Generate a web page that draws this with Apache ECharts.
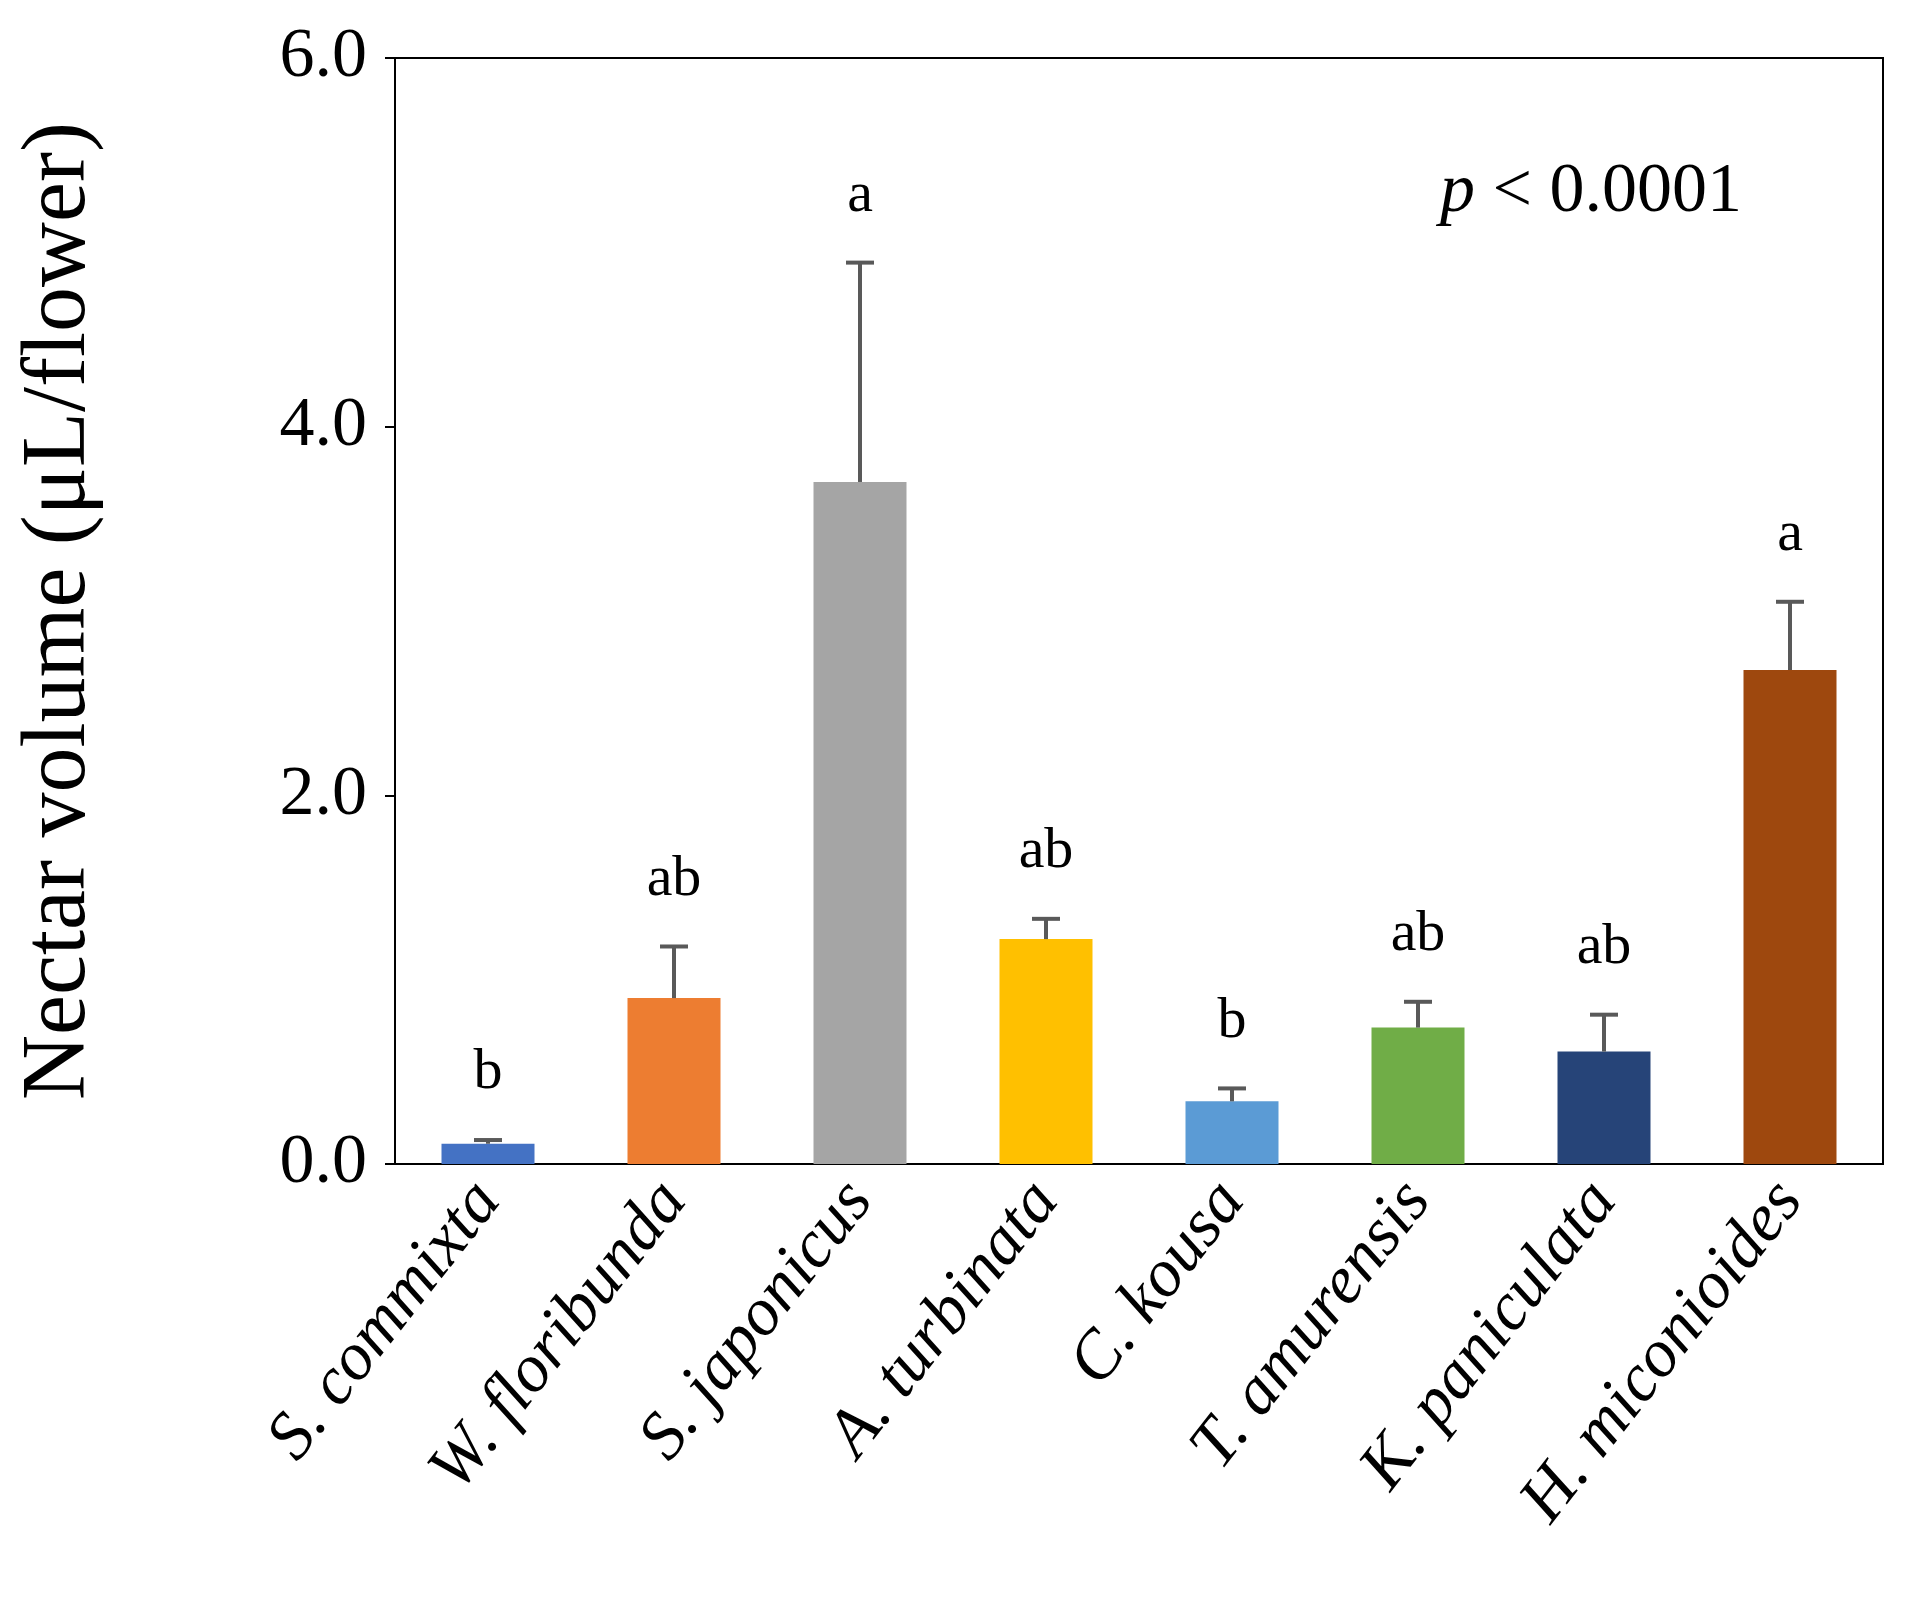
<!DOCTYPE html><html><head><meta charset="utf-8">
<script src="https://cdn.jsdelivr.net/npm/echarts@6/dist/echarts.min.js"></script>
<style>html,body{margin:0;background:#fff}#c{width:1910px;height:1617px}</style></head><body><div id="c"></div>
<script>
const categories=['S. commixta','W. floribunda','S. japonicus','A. turbinata','C. kousa','T. amurensis','K. paniculata','H. miconioides'];
const means=[0.11,0.90,3.70,1.22,0.34,0.74,0.61,2.68];
const upper=[0.13,1.18,4.89,1.33,0.41,0.88,0.81,3.05];
const letters=['b','ab','a','ab','b','ab','ab','a'];
const colors=['#4472C4','#ED7D31','#A5A5A5','#FFC000','#5B9BD5','#70AD47','#264478','#9E480E'];
const yTicks=[0,2,4,6];
const F='Liberation Serif';
const chart=echarts.init(document.getElementById('c'));
chart.setOption({
 grid:{left:395,right:27,top:58,bottom:453,show:true,borderColor:'#000',borderWidth:2},
 xAxis:{type:'category',data:categories,axisTick:{show:false},axisLine:{lineStyle:{color:'#000',width:2}},
  axisLabel:{rotate:52,interval:0,fontFamily:F,fontStyle:'italic',fontSize:68,color:'#000',margin:26}},
 yAxis:{type:'value',min:0,max:6,interval:2,name:'Nectar volume (μL/flower)',nameLocation:'middle',nameGap:290,
  nameTextStyle:{fontFamily:F,fontSize:90,color:'#000'},splitLine:{show:false},
  axisLine:{show:true,lineStyle:{color:'#000',width:2}},axisTick:{show:true,length:10,lineStyle:{color:'#000',width:2}},
  axisLabel:{fontFamily:F,fontSize:70,color:'#000',margin:28,formatter:v=>yTicks.includes(v)?v.toFixed(1):''}},
 series:[
  {type:'bar',barWidth:'50%',data:means.map((v,i)=>({value:v,itemStyle:{color:colors[i]}})),z:2},
  {type:'custom',z:3,data:means.map((v,i)=>[i,v,upper[i]]),
   renderItem:(p,api)=>{const b=api.coord([api.value(0),api.value(1)]);const t=api.coord([api.value(0),api.value(2)]);
    const i=p.dataIndex;const h=14;
    return {type:'group',children:[
     {type:'line',shape:{x1:b[0],y1:b[1],x2:t[0],y2:t[1]},style:{stroke:'#595959',lineWidth:4}},
     {type:'line',shape:{x1:t[0]-h,y1:t[1],x2:t[0]+h,y2:t[1]},style:{stroke:'#595959',lineWidth:4}},
     {type:'text',x:t[0],y:t[1]-38,style:{text:letters[i],fontFamily:F,fontSize:58,fill:'#000',align:'center',verticalAlign:'bottom'}}]};}}
 ],
 graphic:[{type:'text',left:1440,top:158,style:{rich:{i:{fontFamily:F,fontStyle:'italic',fontSize:70,fill:'#000'},n:{fontFamily:F,fontSize:70,fill:'#000'}},text:'{i|p}{n| < 0.0001}'}}]
});
</script></body></html>
